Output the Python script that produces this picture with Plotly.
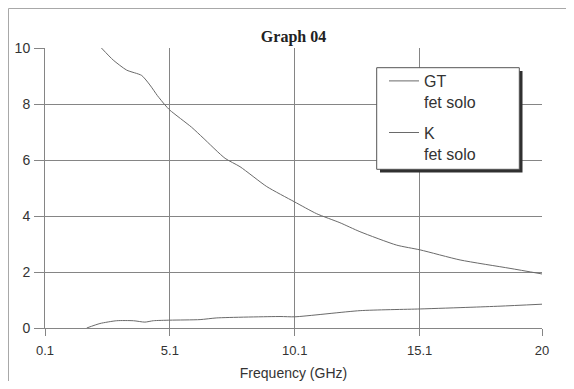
import plotly.graph_objects as go

# ---- data ----
gt_freq = [2.36, 2.83, 3.37, 3.97, 4.3, 4.6, 4.9, 5.1, 5.97, 6.43, 7.31, 7.91, 8.98, 10.08, 10.98, 11.91, 12.71, 14.18, 15.12, 16.72, 18.72, 20.0]
gt_vals = [10.0, 9.57, 9.21, 9.02, 8.68, 8.3, 7.97, 7.78, 7.17, 6.79, 6.06, 5.76, 5.05, 4.51, 4.08, 3.76, 3.44, 2.96, 2.79, 2.43, 2.13, 1.93]

k_freq = [1.77, 2.3, 2.97, 3.64, 4.1, 4.44, 5.1, 6.31, 6.98, 9.51, 10.11, 12.72, 15.12, 17.12, 18.32, 20.0]
k_vals = [0.0, 0.16, 0.26, 0.26, 0.21, 0.26, 0.28, 0.30, 0.36, 0.41, 0.40, 0.62, 0.68, 0.74, 0.78, 0.85]

x_ticks = [0.1, 5.1, 10.1, 15.1, 20]
x_tick_labels = ["0.1", "5.1", "10.1", "15.1", "20"]
y_ticks = [0, 2, 4, 6, 8, 10]

# page has an 8px body margin: figure pixel = reference pixel - 8
OFF = 8
W, H = 558, 373
L, R, T, B = 37, 24, 40, 53
pw, ph = W - L - R, H - T - B

def px(x):
    return (x - OFF - L) / pw

def py(y):
    return (H - B - (y - OFF)) / ph

line_col = "#6a6a6a"
grid_col = "#858585"

fig = go.Figure()
fig.add_trace(go.Scatter(x=gt_freq, y=gt_vals, mode="lines", name="GT<br>fet solo",
                         legendgroup="a", line=dict(color=line_col, width=1, shape="spline", smoothing=0.6)))
fig.add_trace(go.Scatter(x=k_freq, y=k_vals, mode="lines", name="K<br>fet solo",
                         legendgroup="b", line=dict(color=line_col, width=1, shape="spline", smoothing=0.6)))

shapes = [
    # outer frame (left and top edges)
    dict(type="line", xref="paper", yref="paper", x0=px(8.5), x1=px(8.5), y0=py(8.5), y1=py(381), line=dict(color="#a8a8a8", width=1), layer="above"),
    dict(type="line", xref="paper", yref="paper", x0=px(8.5), x1=px(566), y0=py(8.5), y1=py(8.5), line=dict(color="#a8a8a8", width=1), layer="above"),
    # legend shadow and box
    dict(type="rect", xref="paper", yref="paper", x0=px(380), x1=px(522.5), y0=py(172.5), y1=py(71),
         fillcolor="#303030", line=dict(width=0), layer="above"),
    dict(type="rect", xref="paper", yref="paper", x0=px(376.7), x1=px(519.3), y0=py(169.3), y1=py(67.7),
         fillcolor="white", line=dict(color="#555555", width=1), layer="above"),
]

fig.update_layout(
    width=W, height=H,
    margin=dict(l=L, r=R, t=T, b=B, autoexpand=False),
    paper_bgcolor="white", plot_bgcolor="white",
    font=dict(family="Liberation Sans, Arial, sans-serif", color="#333333"),
    title=dict(text="<b>Graph 04</b>", x=px(293.5), xref="paper", xanchor="center",
               y=1 - (36.6 - OFF) / H, yref="container", yanchor="middle",
               font=dict(family="Liberation Serif, Times New Roman, serif", size=16, color="#222222")),
    showlegend=True,
    legend=dict(x=px(384), y=py(64), xanchor="left", yanchor="top",
                bgcolor="rgba(0,0,0,0)", borderwidth=0,
                font=dict(size=16, color="#333333"), valign="top",
                traceorder="grouped", tracegroupgap=7),
    shapes=shapes,
    xaxis=dict(range=[0.1, 20], tickvals=x_ticks, ticktext=x_tick_labels,
               automargin=False,
               showgrid=True, gridcolor=grid_col, gridwidth=1,
               showline=True, linecolor=grid_col, linewidth=1,
               ticks="outside", ticklen=7, tickcolor=grid_col,
               ticklabelstandoff=3,
               tickfont=dict(size=13, color="#333333"), zeroline=False,
               title=dict(text="Frequency (GHz)", font=dict(size=14, color="#333333"), standoff=13)),
    yaxis=dict(range=[0, 10], tickvals=y_ticks,
               automargin=False,
               showgrid=True, gridcolor=grid_col, gridwidth=1,
               showline=True, linecolor=grid_col, linewidth=1,
               ticks="outside", ticklen=10, tickcolor=grid_col,
               ticklabelstandoff=1,
               tickfont=dict(size=14, color="#333333"), zeroline=False),
)

fig.write_html("out.html")
